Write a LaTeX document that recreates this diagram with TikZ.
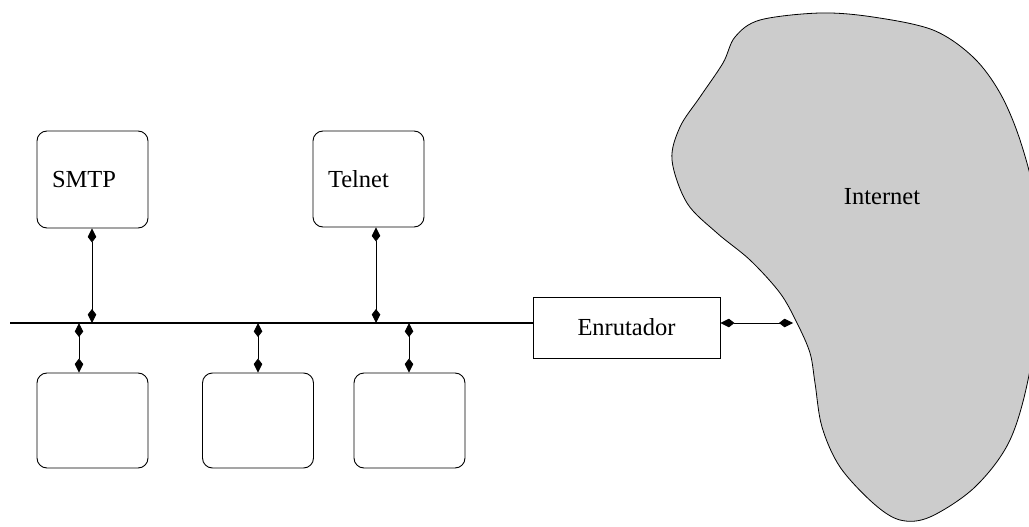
\documentclass[tikz,border=0pt]{standalone}
\usepackage{fontspec}
\setmainfont{Liberation Serif}
\usetikzlibrary{arrows.meta}
\begin{document}
\begin{tikzpicture}[x=1pt,y=-1pt,
  every node/.style={font=\fontsize{24.5}{29}\selectfont},
  host/.style={draw,line width=0.9pt,rounded corners=10pt,minimum width=111pt,inner sep=0pt},
  labhost/.style={host,text width=81pt,align=left,inner xsep=15pt},
  router/.style={draw,line width=0.9pt,minimum width=187pt,minimum height=61pt,inner sep=0pt},
  link/.style={line width=0.9pt,{Kite[length=14pt,width=8.5pt,inset=5.5pt]}-{Kite[length=14pt,width=8.5pt,inset=5.5pt]}},
  bus/.style={line width=1.4pt}]
\clip (0,0) rectangle (1029,527);
% cloud
\path[draw=black,line width=0.8pt,fill={rgb,255:red,204;green,204;blue,204}]
  plot[smooth cycle,tension=0.55] coordinates {
  (735,37) (760,20) (820,13) (873,17) (933,30) (973,57) (1000,93) (1020,140)
  (1035,200) (1040,280) (1030,370) (1010,440) (975,487) (930,517) (900,520)
  (873,503) (840,467) (822,427) (815,383) (810,353) (797,323) (780,293)
  (750,260) (717,233) (687,203) (672,160) (680,127) (700,97) (723,63)};
\node (inet) at (882,197) {Internet};
% hosts
\node[labhost,minimum height=97pt] (smtp) at (92.5,179.5) {SMTP};
\node[labhost,minimum height=96pt] (telnet) at (368.5,179) {Telnet};
\node[host,minimum height=95pt] (h1) at (92.5,420.5) {};
\node[host,minimum height=95pt] (h2) at (258,420.5) {};
\node[host,minimum height=95pt] (h3) at (409.5,420.5) {};
\node[router] (rt) at (626.5,327.5) {Enrutador};
% bus
\coordinate (busL) at (10,323);
\coordinate (tS) at (92,323);
\coordinate (tT) at (376,323);
\coordinate (t1) at (79,323);
\coordinate (t2) at (258,323);
\coordinate (t3) at (409,323);
\coordinate (cloudE) at (793,323);
\draw[bus] (busL) -- (busL -| rt.west);
\draw[link] (tS |- smtp.south) -- (tS);
\draw[link] (tT |- telnet.south) -- (tT);
\draw[link] (t1) -- (t1 |- h1.north);
\draw[link] (t2) -- (t2 |- h2.north);
\draw[link] (t3) -- (t3 |- h3.north);
\draw[link] (rt.east |- cloudE) -- (cloudE);
\end{tikzpicture}
\end{document}
